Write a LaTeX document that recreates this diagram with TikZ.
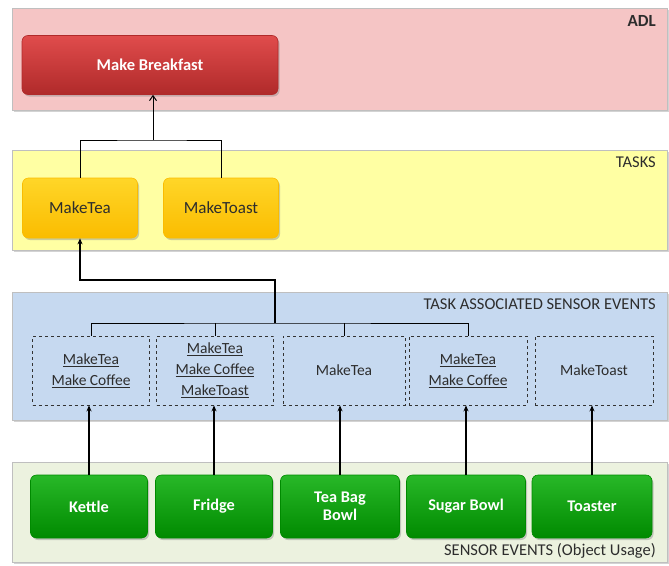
\documentclass[tikz,border=0pt]{standalone}
\usepackage{fontspec}
\setmainfont{Carlito}
\usetikzlibrary{arrows.meta,shadows}

\definecolor{adlpink}{RGB}{245,197,197}
\definecolor{taskyellow}{RGB}{255,255,163}
\definecolor{eventblue}{RGB}{198,217,240}
\definecolor{sensorgreen}{RGB}{236,242,223}
\definecolor{redtop}{RGB}{224,76,76}
\definecolor{redbot}{RGB}{176,42,42}
\definecolor{goldtop}{RGB}{255,214,40}
\definecolor{goldbot}{RGB}{250,188,0}
\definecolor{greentop}{RGB}{40,184,40}
\definecolor{greenbot}{RGB}{0,138,0}
\definecolor{textgray}{RGB}{45,45,45}

\tikzset{
  band/.style={rectangle, anchor=north west, inner sep=0pt, fill=#1,
    draw=white!75!black, line width=0.7pt,
    drop shadow={shadow xshift=1.5pt, shadow yshift=-2pt, opacity=0.35}},
  bandlabel/.style={anchor=north east, inner sep=0pt, text=textgray,
    font=\fontsize{16.5}{18}\selectfont},
  softbox/.style={rectangle, rounded corners=6pt, draw=#1, line width=0.6pt,
    drop shadow={shadow xshift=1.5pt, shadow yshift=-2pt, opacity=0.4}},
  adlbox/.style={softbox=redbot, top color=redtop, bottom color=redbot,
    text=white, font=\fontsize{16.5}{18}\selectfont\bfseries,
    minimum width=256, minimum height=59},
  taskbox/.style={softbox=goldbot, top color=goldtop, bottom color=goldbot,
    text=textgray, font=\fontsize{17}{19}\selectfont,
    minimum width=115, minimum height=60},
  eventbox/.style={rectangle, draw=black!80, dashed, line width=0.8pt,
    text=textgray, align=center, font=\fontsize{15.5}{21}\selectfont,
    minimum height=69},
  objbox/.style={softbox=greenbot, top color=greentop, bottom color=greenbot,
    text=white, align=center, font=\fontsize{16.3}{18}\selectfont\bfseries,
    minimum width=117, minimum height=63},
  thinline/.style={draw=black, line width=1pt},
  arrowline/.style={draw=black, line width=1.5pt, -{Stealth[length=6pt,width=5pt]}}
}

\begin{document}
\begin{tikzpicture}[x=1pt,y=-1pt]
\useasboundingbox (0,0) rectangle (669,565);

% The bands
\node[band=adlpink, minimum width=655, minimum height=102] (adlband) at (12,8) {};
\node[band=taskyellow, minimum width=655, minimum height=100] (taskband) at (12,150) {};
\node[band=eventblue, minimum width=655, minimum height=128] (eventband) at (12,292) {};
\node[band=sensorgreen, minimum width=655, minimum height=100] (sensorband) at (12,462) {};

% Band titles
\node[bandlabel, font=\fontsize{17}{19}\selectfont\bfseries] (adllabel) at (656,15) {ADL};
\node[bandlabel] (tasklabel) at (656,157) {TASKS};
\node[bandlabel] (eventlabel) at (656,299) {TASK ASSOCIATED SENSOR EVENTS};
\node[bandlabel, anchor=south east] (sensorlabel) at (656,559) {SENSOR EVENTS (Object Usage)};

% ADL and tasks
\node[adlbox] (breakfast) at (150,65) {Make Breakfast};
\node[taskbox] (tea) at (80,208) {MakeTea};
\node[taskbox] (toast) at (221,208) {MakeToast};

% Task associated sensor events
\node[eventbox, minimum width=117] (ev1) at (91,370.5) {\underline{MakeTea}\\\underline{Make Coffee}};
\node[eventbox, minimum width=117] (ev2) at (215,370.5) {\underline{MakeTea}\\\underline{Make Coffee}\\\underline{MakeToast}};
\node[eventbox, minimum width=122] (ev3) at (344,370.5) {MakeTea};
\node[eventbox, minimum width=118] (ev4) at (468,370.5) {\underline{MakeTea}\\\underline{Make Coffee}};
\node[eventbox, minimum width=118] (ev5) at (594,370.5) {MakeToast};

% Sensor events
\node[objbox] (obj1) at (89,506.5) {Kettle};
\node[objbox] (obj2) at (214,506.5) {Fridge};
\node[objbox, minimum width=119] (obj3) at (340,506.5) {Tea Bag\\Bowl};
\node[objbox, minimum width=119] (obj4) at (466,506.5) {Sugar Bowl};
\node[objbox, minimum width=120] (obj5) at (592,506.5) {Toaster};

% Tasks to ADL
\coordinate (taskjoin) at (153,140);
\draw[thinline] (tea.north) |- (taskjoin) -| (toast.north);
\draw[thinline, -{Straight Barb[length=5pt,width=7pt]}] (taskjoin) -- (taskjoin |- breakfast.south);

% Events to tasks
\coordinate (eventjoin) at (275,323);
\coordinate (eventbend) at (275,280);
\draw[thinline] (ev1.north) |- (eventjoin) -| (ev4.north);
\foreach \i in {2,3}
  \draw[thinline] (ev\i.north) -- (ev\i.north |- eventjoin);
\draw[arrowline] (eventjoin) -- (eventbend) -| (tea.south);

% Objects to events
\foreach \i in {1,...,5}
  \draw[arrowline] (obj\i.north) -- (obj\i.north |- ev\i.south);
\end{tikzpicture}
\end{document}
